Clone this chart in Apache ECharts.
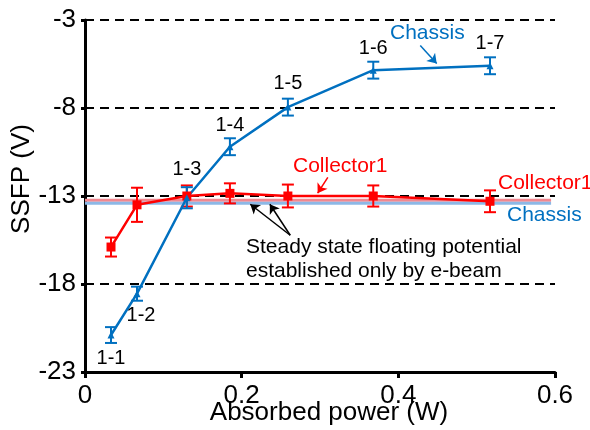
<!DOCTYPE html>
<html>
<head>
<meta charset="utf-8">
<script src="https://cdn.jsdelivr.net/npm/echarts@6/dist/echarts.min.js"></script>
<style>
  html, body { margin: 0; padding: 0; background: #fff; }
  #chart { width: 590px; height: 430px; }
</style>
</head>
<body>
<div id="chart"></div>
<script>
// absorbed power (W) for each run 1-1 ... 1-7
const power = [0.0332, 0.0664, 0.130, 0.185, 0.259, 0.368, 0.517]
const runLabels = ['1-1', '1-2', '1-3', '1-4', '1-5', '1-6', '1-7']

// chassis SSFP (V) and error
const chassis = [-20.9, -18.55, -13.1, -10.2, -7.95, -5.85, -5.6]
const chassisErr = [0.45, 0.4, 0.6, 0.48, 0.48, 0.48, 0.48]

// collector1 SSFP (V) and error
const collector = [-15.9, -13.5, -13.0, -12.85, -13.0, -13.0, -13.3]
const collectorErr = [0.54, 0.97, 0.6, 0.57, 0.65, 0.6, 0.62]

// steady state level by e-beam only
const ebeamX = [0, 0.595]
const ebeamCollector = -13.24
const ebeamChassis = -13.41

// annotation arrows [x1, y1, x2, y2]
const chassisArrow = [[0.428, -4.45, 0.449, -5.47]]
const collectorArrow = [[0.310, -11.94, 0.297, -12.84]]
const steadyArrows = [[0.262, -15.23, 0.211, -13.47], [0.262, -15.23, 0.236, -13.47]]

const BLUE = '#0070C0'
const RED = '#FF0000'
const FONT = 'Liberation Sans, Arial, sans-serif'

const chart = echarts.init(document.getElementById('chart'))

const errorSeries = (vals, errs, color) => ({
  type: 'custom',
  z: 4,
  data: power.map((x, i) => [x, vals[i] - errs[i], vals[i] + errs[i]]),
  renderItem: (params, api) => {
    const lo = api.coord([api.value(0), api.value(1)])
    const hi = api.coord([api.value(0), api.value(2)])
    const w = 6
    const style = { stroke: color, lineWidth: 2 }
    return {
      type: 'group',
      children: [
        { type: 'line', shape: { x1: lo[0], y1: lo[1], x2: hi[0], y2: hi[1] }, style },
        { type: 'line', shape: { x1: lo[0] - w, y1: lo[1], x2: lo[0] + w, y2: lo[1] }, style },
        { type: 'line', shape: { x1: hi[0] - w, y1: hi[1], x2: hi[0] + w, y2: hi[1] }, style }
      ]
    }
  }
})

const arrowSeries = (arr, color) => ({
  type: 'lines',
  coordinateSystem: 'cartesian2d',
  z: 6,
  symbol: ['none', 'arrow'],
  symbolSize: 9,
  lineStyle: { color, width: 1.5, opacity: 1 },
  data: arr.map(a => ({ coords: [[a[0], a[1]], [a[2], a[3]]] }))
})

// label offsets for the run names
const labelPos = [
  { position: 'bottom', offset: [0, 5] },
  { position: 'bottom', offset: [4, 3] },
  { position: 'top', offset: [0, -10] },
  { position: 'top', offset: [0, -3] },
  { position: 'top', offset: [0, -5] },
  { position: 'top', offset: [0, -3] },
  { position: 'top', offset: [0, -4] }
]

const option = {
  animation: false,
  grid: { left: 85, right: 35, top: 20, bottom: 58, containLabel: false, outerBoundsMode: 'none' },
  xAxis: {
    type: 'value',
    min: 0,
    max: 0.6,
    interval: 0.2,
    name: 'Absorbed power (W)',
    nameLocation: 'middle',
    nameGap: 28,
    nameMoveOverlap: false,
    nameTextStyle: { color: '#000', fontSize: 26, fontFamily: FONT, padding: [0, 0, 0, 18] },
    axisLine: { lineStyle: { color: '#000', width: 3 } },
    axisTick: { length: 6, lineStyle: { color: '#000', width: 3 } },
    axisLabel: {
      color: '#000', fontSize: 26, fontFamily: FONT, margin: 11,
      formatter: v => (v === 0 ? '0' : v.toFixed(1))
    },
    splitLine: { show: false }
  },
  yAxis: {
    type: 'value',
    min: -23,
    max: -3,
    interval: 5,
    name: 'SSFP (V)',
    nameLocation: 'middle',
    nameGap: 50,
    nameMoveOverlap: false,
    nameTextStyle: { color: '#000', fontSize: 26, fontFamily: FONT, padding: [0, 0, 0, 34] },
    axisLine: { lineStyle: { color: '#000', width: 3 } },
    axisTick: { length: 4, lineStyle: { color: '#000', width: 3 } },
    axisLabel: { color: '#000', fontSize: 26, fontFamily: FONT, margin: 9 },
    splitLine: { show: true, lineStyle: { color: '#000', width: 2, type: [9, 6] } }
  },
  series: [
    {
      type: 'line',
      z: 1,
      symbol: 'none',
      silent: true,
      lineStyle: { color: '#F28890', width: 3 },
      data: ebeamX.map(x => [x, ebeamCollector])
    },
    {
      type: 'line',
      z: 1,
      symbol: 'none',
      silent: true,
      lineStyle: { color: '#8DB8E6', width: 3 },
      data: ebeamX.map(x => [x, ebeamChassis])
    },
    errorSeries(collector, collectorErr, RED),
    {
      name: 'Collector1',
      type: 'line',
      z: 5,
      symbol: 'rect',
      symbolSize: 9,
      itemStyle: { color: RED },
      lineStyle: { color: RED, width: 2.5 },
      data: power.map((x, i) => [x, collector[i]])
    },
    errorSeries(chassis, chassisErr, BLUE),
    {
      name: 'Chassis',
      type: 'line',
      z: 5,
      symbol: 'triangle',
      symbolSize: 7,
      itemStyle: { color: BLUE },
      lineStyle: { color: BLUE, width: 2.5 },
      data: power.map((x, i) => ({
        value: [x, chassis[i]],
        label: {
          show: true,
          formatter: runLabels[i],
          color: '#000',
          fontSize: 20,
          fontFamily: FONT,
          ...labelPos[i]
        }
      }))
    },
    arrowSeries(chassisArrow, BLUE),
    arrowSeries(collectorArrow, RED),
    arrowSeries(steadyArrows, '#000')
  ],
  graphic: [
    { type: 'text', x: 390, y: 33, style: { text: 'Chassis', fill: BLUE, font: '21px ' + FONT, verticalAlign: 'middle' } },
    { type: 'text', x: 293, y: 166, style: { text: 'Collector1', fill: RED, font: '21px ' + FONT, verticalAlign: 'middle' } },
    { type: 'text', x: 498, y: 183, style: { text: 'Collector1', fill: RED, font: '21px ' + FONT, verticalAlign: 'middle' } },
    { type: 'text', x: 507, y: 215, style: { text: 'Chassis', fill: BLUE, font: '21px ' + FONT, verticalAlign: 'middle' } },
    { type: 'text', x: 246, y: 247, style: { text: 'Steady state floating potential', fill: '#000', font: '21px ' + FONT, verticalAlign: 'middle' } },
    { type: 'text', x: 246, y: 271, style: { text: 'established only by e-beam', fill: '#000', font: '21px ' + FONT, verticalAlign: 'middle' } }
  ]
}

chart.setOption(option)
</script>
</body>
</html>
